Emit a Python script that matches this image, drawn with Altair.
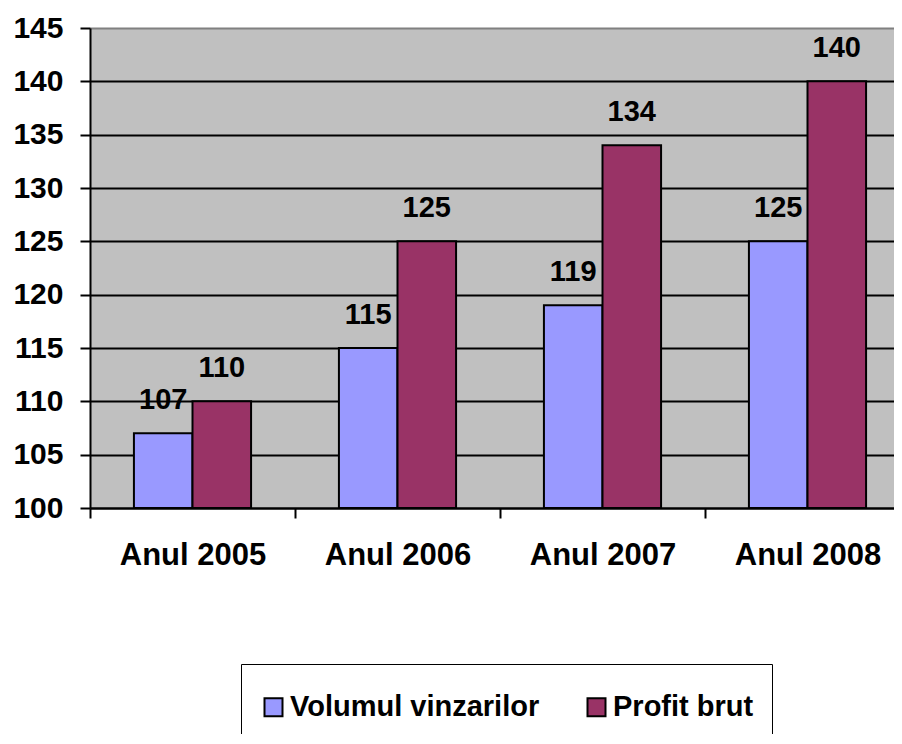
import altair as alt
import pandas as pd

years = ["Anul 2005", "Anul 2006", "Anul 2007", "Anul 2008"]
series = ["Volumul vinzarilor", "Profit brut"]
volum = [107, 115, 119, 125]
profit = [110, 125, 134, 140]
colors = ["#9999FF", "#993366"]
y_ticks = [100, 105, 110, 115, 120, 125, 130, 135, 140, 145]

rows = []
for i, yr in enumerate(years):
    rows.append({"an": yr, "serie": series[0], "val": volum[i]})
    rows.append({"an": yr, "serie": series[1], "val": profit[i]})
df = pd.DataFrame(rows)

FONT = "Liberation Sans"

x_enc = alt.X(
    "an:N",
    sort=years,
    scale=alt.Scale(paddingInner=0, paddingOuter=0),
    axis=alt.Axis(
        title=None, labelAngle=0, labelFontSize=31, labelFontWeight="bold",
        labelFont=FONT, labelColor="black", labelPadding=22, tickSize=10,
        tickWidth=2, tickColor="black", domainColor="black", domainWidth=2,
        tickBand="extent", grid=False,
    ),
)
xoff = alt.XOffset(
    "serie:N", sort=series,
    scale=alt.Scale(paddingInner=0, paddingOuter=0.75),
)
y_enc = alt.Y(
    "val:Q",
    scale=alt.Scale(domain=[100, 145], zero=False, nice=False),
    axis=alt.Axis(
        title=None, values=y_ticks, labelFontSize=30, labelFontWeight="bold",
        labelFont=FONT, labelColor="black", labelPadding=17, tickSize=10,
        tickWidth=2, tickColor="black", domainColor="black", domainWidth=2,
        grid=True, gridWidth=2,
        gridColor=alt.condition("datum.value == 145", alt.value("#808080"), alt.value("black")),
    ),
)

bars = alt.Chart(df).mark_bar(stroke="black", strokeWidth=2, opacity=1).encode(
    x=x_enc,
    xOffset=xoff,
    y=y_enc,
    y2=alt.datum(100),
    fill=alt.Fill(
        "serie:N", sort=series,
        scale=alt.Scale(domain=series, range=colors),
        legend=alt.Legend(
            title=" ", titleFontSize=8, titlePadding=2.5,
            orient="none", legendX=151, legendY=636, direction="horizontal",
            strokeColor="black", padding=18, symbolType="square",
            symbolSize=324, symbolStrokeColor="black", symbolStrokeWidth=2,
            symbolOpacity=1, labelFont=FONT, labelFontSize=29,
            labelFontWeight="bold", labelColor="black", labelOffset=2,
            columnPadding=42, labelLimit=400,
        ),
    ),
)

labels = alt.Chart(df).mark_text(
    baseline="alphabetic", align="center", dy=-24, font=FONT, fontSize=29,
    fontWeight="bold", color="black",
).encode(
    x=alt.X("an:N", sort=years),
    xOffset=alt.XOffset("serie:N", sort=series),
    y=alt.Y("val:Q"),
    text=alt.Text("val:Q"),
)

chart = alt.layer(bars, labels).properties(
    width=820, height=480,
    autosize=alt.AutoSizeParams(type="none"),
    padding={"left": 82, "top": 20, "right": -16, "bottom": 226},
    background="white",
).configure_view(fill="#C0C0C0", strokeWidth=0)

chart.save("out.html", embed_options={"renderer": "svg", "actions": False})
